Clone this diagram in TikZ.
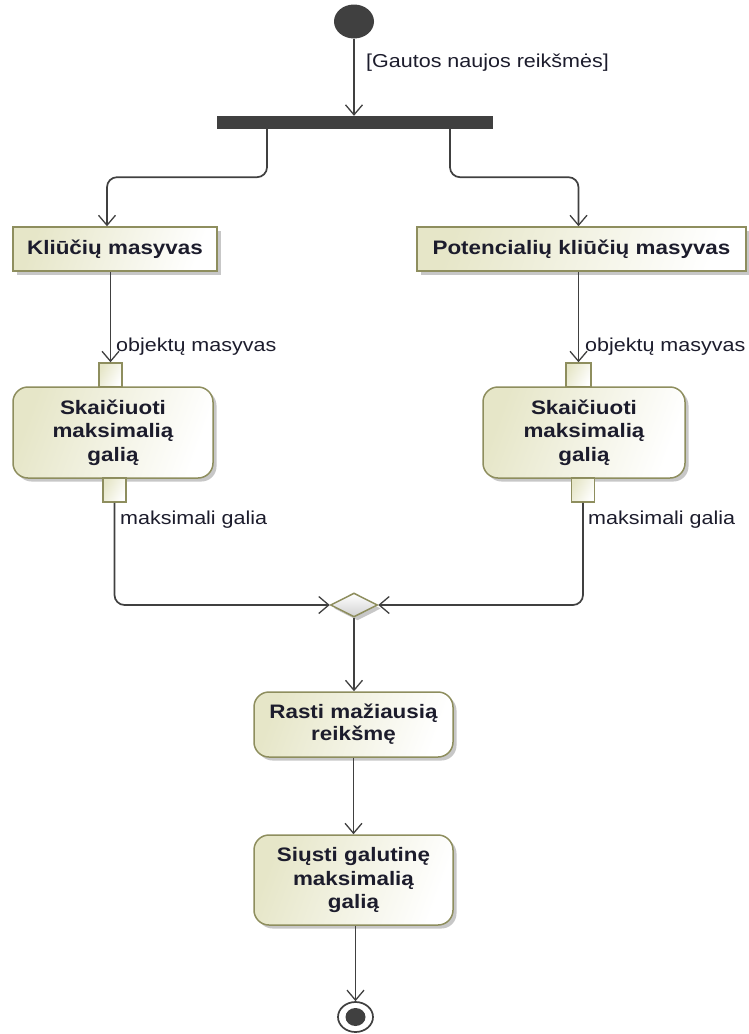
\documentclass[tikz,border=0pt]{standalone}
\usepackage{fontspec}
\setmainfont{Liberation Sans}[FakeStretch=1.15]
\usetikzlibrary{arrows.meta,shapes.geometric,shadows}

\definecolor{edge}{HTML}{404040}
\definecolor{olive}{HTML}{8E8E5E}
\definecolor{tan}{HTML}{E6E6C8}
\definecolor{ink}{HTML}{1C1C2C}

\tikzset{
  x=1pt, y=-1pt,
  flow/.style={draw=edge, line width=1.7pt, rounded corners=10pt,
    -{Straight Barb[length=10pt,width=17pt,line width=1.3pt]}},
  shadowed/.style={drop shadow={shadow xshift=3.5pt, shadow yshift=-3.5pt,
    fill=black, opacity=0.22}},
  objbox/.style={rectangle, draw=olive, line width=1.5pt, left color=tan,
    right color=white, shading angle=70, shadowed, inner sep=0pt,
    font=\fontsize{19.5}{22}\selectfont\bfseries, text=ink},
  actbox/.style={rectangle, rounded corners=15pt, draw=olive, line width=1.5pt,
    left color=tan, right color=white, shading angle=70, shadowed, inner sep=0pt,
    align=center, font=\fontsize{19.5}{23.5}\selectfont\bfseries, text=ink},
  pinbox/.style={rectangle, draw=olive, line width=1.5pt, left color=tan,
    right color=white, shading angle=60, inner sep=0pt,
    minimum width=23pt, minimum height=24pt},
  lbl/.style={anchor=west, inner sep=0pt, text=ink,
    font=\fontsize{18.7}{21}\selectfont},
}

\begin{document}
\begin{tikzpicture}
\useasboundingbox (0,0) rectangle (748,1034);

% start, fork bar
\node[ellipse, fill=edge, minimum width=40pt, minimum height=34pt, inner sep=0pt] (init) at (354,21.5) {};
\node[rectangle, fill=edge, minimum width=276pt, minimum height=13pt, inner sep=0pt] (bar) at (355,122.5) {};
\node[lbl] (guard) at (366,63) {[Gautos naujos reikšmės]};

% object nodes
\node[objbox, minimum width=204pt, minimum height=44pt] (k) at (115,249) {Kliūčių masyvas};
\node[objbox, minimum width=329pt, minimum height=44pt] (p) at (581.5,249) {Potencialių kliūčių masyvas};

% actions with their pins
\node[actbox, minimum width=200pt, minimum height=91pt] (a1) at (113,432.5) {Skaičiuoti\\maksimalią\\galią};
\node[actbox, minimum width=202pt, minimum height=91pt] (a2) at (584,432.5) {Skaičiuoti\\maksimalią\\galią};
\node[pinbox] (i1) at (110.5,375) {};
\node[pinbox] (o1) at (114.5,490) {};
\node[pinbox, minimum width=25pt] (i2) at (578.5,375) {};
\node[pinbox] (o2) at (583,490) {};

\node[lbl] (l1) at (116,347) {objektų masyvas};
\node[lbl] (l2) at (585,347) {objektų masyvas};
\node[lbl] (l3) at (120,520) {maksimali galia};
\node[lbl] (l4) at (588,520) {maksimali galia};

% merge
\node[diamond, draw=olive, line width=1.5pt, top color=white, bottom color=black!18,
  shadowed, inner sep=0pt, minimum width=47pt, minimum height=24pt, shape aspect=2] (dec) at (354,605) {};

% final actions
\node[actbox, minimum width=199pt, minimum height=65pt, font=\fontsize{19.5}{22}\selectfont\bfseries] (r) at (353.5,724.5) {Rasti mažiausią\\reikšmę};
\node[actbox, minimum width=199pt, minimum height=90pt] (s) at (353.5,880) {Siųsti galutinę\\maksimalią\\galią};

% final node
\node[ellipse, draw=edge, fill=white, line width=1.7pt, minimum width=35pt, minimum height=30pt, inner sep=0pt] (fin) at (355.5,1017) {};
\node[ellipse, fill=edge, minimum width=20pt, minimum height=18pt, inner sep=0pt] (fdot) at (fin) {};

% connectors
\draw[flow] (init.south) -- (init.south |- bar.north);
\draw[flow] ([xshift=-88pt]bar.south) -- ++(0,48) -| ([xshift=-8pt]k.north);
\draw[flow] ([xshift=95pt]bar.south) -- ++(0,48) -| ([xshift=-3pt]p.north);
\draw[flow] (k.south -| i1.north) -- (i1.north);
\draw[flow] (p.south -| i2.north) -- (i2.north);
\draw[flow] (o1.south) |- (dec.west);
\draw[flow] (o2.south) |- (dec.east);
\draw[flow] (dec.south) -- (r.north -| dec.south);
\draw[flow] (r.south) -- (s.north);
\draw[flow] (s.south -| fin.north) -- (fin.north);
\end{tikzpicture}
\end{document}
